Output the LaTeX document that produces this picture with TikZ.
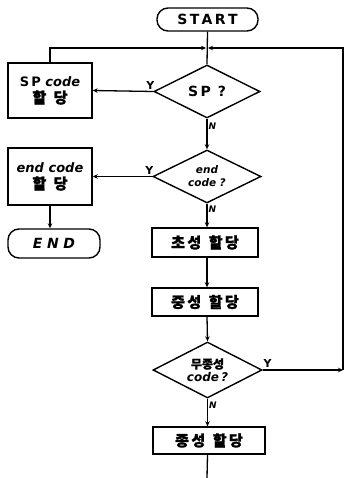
\documentclass[tikz,border=0pt]{standalone}
\usepackage{fontspec}
\setmainfont{DejaVu Sans}
\newfontfamily\kr[FakeBold=1.6]{Noto Sans CJK KR}
\usetikzlibrary{shapes.geometric,arrows.meta}
\begin{document}
\begin{tikzpicture}[x=1pt,y=-1pt,
  every node/.style={font=\bfseries\fontsize{13}{14}\selectfont},
  proc/.style={draw,line width=1.4pt,rectangle,inner sep=2pt,align=center},
  term/.style={draw,line width=1.4pt,rectangle,rounded corners=11pt,inner sep=2pt},
  dec/.style={draw,line width=1.4pt,diamond,aspect=2,inner sep=0pt,align=center,
    minimum width=106pt,minimum height=53pt},
  flow/.style={line width=1.3pt},
  arr/.style={flow,-{Stealth[length=5pt,width=4.5pt]}},
  lab/.style={font=\bfseries\itshape\fontsize{9}{9}\selectfont,inner sep=1pt},
  ylab/.style={font=\bfseries\fontsize{11}{11}\selectfont,inner sep=1.5pt}]
\useasboundingbox (0,0) rectangle (345,478);

% terminals and process boxes
\node[term,minimum width=101pt,minimum height=23pt] (start) at (207.5,19.5)
  {\fontsize{14}{15}\selectfont S\,T\,A\,R\,T};
\node[proc,minimum width=84pt,minimum height=55pt] (spbox) at (50,90.5)
  {S\,P {\itshape code}\\[3pt]{\kr\fontsize{15}{16}\selectfont 할\enspace 당}};
\node[dec] (sp) at (207,91.5) {\fontsize{14}{15}\selectfont S\,P\enspace ?};
\node[proc,minimum width=84pt,minimum height=57pt] (endbox) at (50,176.5)
  {{\itshape end code}\\[3pt]{\kr\fontsize{15}{16}\selectfont 할\enspace 당}};
\node[dec,minimum height=53pt,minimum width=108pt] (ec) at (207,176.5)
  {\fontsize{10.5}{11}\selectfont\itshape end\\[-1pt]\fontsize{10.5}{11}\selectfont\itshape code\,\,?};
\node[term,minimum width=92pt,minimum height=29pt] (end) at (54,243.5)
  {\fontsize{14}{15}\selectfont\itshape E\,\,N\,\,D};
\node[proc,minimum width=106pt,minimum height=29pt] (cho) at (205,242.5)
  {\kr\fontsize{15}{16}\selectfont 초\,성\enspace 할\,당};
\node[proc,minimum width=106pt,minimum height=28pt] (jung) at (205,302)
  {\kr\fontsize{15}{16}\selectfont 중\,성\enspace 할\,당};
\node[dec,minimum width=109pt,minimum height=56pt] (nc) at (207.5,370)
  {{\kr\fontsize{12}{12}\selectfont 무종성}\\[-1pt]{\itshape\fontsize{12}{12}\selectfont code\,?}};
\node[proc,minimum width=112pt,minimum height=27pt] (jong) at (209,440.5)
  {\kr\fontsize{15}{16}\selectfont 종\,성\enspace 할\,당};

% junction points
\coordinate (jt) at (207,48);
\coordinate (rc) at (343,370);
\coordinate (bot) at (207,478);

% main flow
\draw[flow] (start.south) -- (sp.north);
\draw[arr] (spbox.north) |- ([xshift=-1pt]jt);
\draw[arr] (sp.west) -- node[ylab,above,pos=0.05] {Y} (spbox.east);
\draw[arr] (sp.south) -- node[lab,right,pos=0.25] {N} (ec.north);
\draw[arr] (ec.west) -- node[ylab,above,pos=0.05] {Y} (endbox.east);
\draw[arr] (endbox.south) -- (end.north -| endbox.south);
\draw[arr] (ec.south) -- node[lab,right,pos=0.25] {N} (ec.south |- cho.north);
\draw[arr] (cho.south -| ec.south) -- (jung.north -| ec.south);
\draw[arr] (jung.south -| ec.south) -- (nc.north);
\draw[arr] (nc.south) -- node[lab,right,pos=0.25] {N} (nc.south |- jong.north);
\draw[arr] (nc.east) -- node[ylab,above,pos=0.06] {Y} (rc);
\draw[arr] (rc) |- ([xshift=1pt]jt);
\draw[flow] (nc.south |- jong.south) -- (bot);
\end{tikzpicture}
\end{document}
